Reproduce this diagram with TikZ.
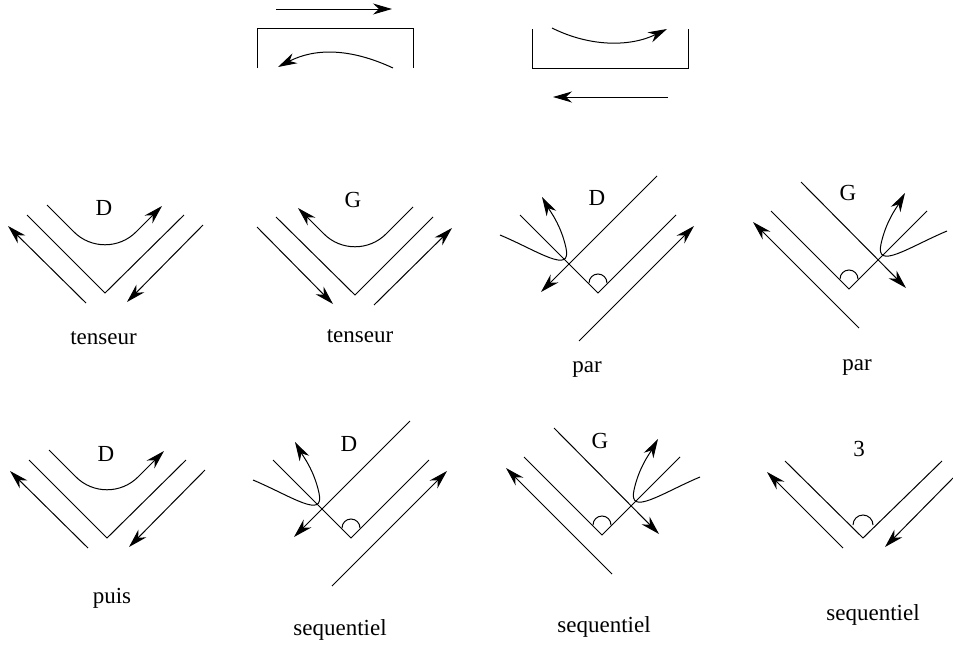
\documentclass[tikz,border=0pt]{standalone}
\usepackage{fontspec}
\setmainfont{Liberation Serif}
\usetikzlibrary{arrows.meta}
\tikzset{
  every picture/.style={line width=0.5pt},
  arr/.style={-{Stealth[length=9.5pt,width=5.5pt,inset=3pt]}},
  glabel/.style={font=\fontsize{11.5}{13}\selectfont, inner sep=0pt},
}
% small half circle just above the vertex
\newcommand{\angmark}{\draw (-9,10) arc[start angle=180,end angle=0,radius=9];}
% V with the two outer arrows and the rounded inner arrow
\newcommand{\tensglyph}{%
  \draw (-78,78) -- (0,0) -- (79,78);
  \draw[arr] (-19,-10) -- (-97,67);
  \draw[arr] (98,68) -- (22,-9);
  \draw[arr,rounded corners=22pt] (-58,88) -- (0,30) -- (57,87);}
% V with the long crossing line; #1 = far end of it, #2 = start of outer arrow
\newcommand{\parglyph}[2]{%
  \draw (-78,78) -- (0,0) -- (78,78);
  \draw[arr] (#1) -- (-57,1);
  \draw[arr] (#2) -- (96,67);
  \draw[arr] (-98,58) .. controls (-60,42) and (-26,18) .. (-32,45)
    .. controls (-37,68) and (-48,82) .. (-56,96);
  \angmark}

\begin{document}
\begin{tikzpicture}[x=0.5pt,y=0.5pt]
\useasboundingbox (0,0) rectangle (953,650);
% the two boxes on top
\draw[arr] (276,641) -- (392,641);
\draw (257,582) |- (413,622) -- (413,582);
\draw[arr] (393,582) .. controls (350,602) and (315,602) .. (278,583);
\draw (532,621) |- (688,582) -- (688,621);
\draw[arr] (552,622) .. controls (590,603) and (630,603) .. (667,621);
\draw[arr] (668,553) -- (553,553);

\coordinate (v1) at (105,357);
\coordinate (v2) at (355,355);
\coordinate (v3) at (598,357);
\coordinate (v4) at (849,361);
\coordinate (v5) at (107,112);
\coordinate (v6) at (351,112);
\coordinate (v7) at (602,115);
\coordinate (v8) at (863,112);

\begin{scope}[shift={(v1)}] \tensglyph \end{scope}
\begin{scope}[shift={(v2)},xscale=-1] \tensglyph \end{scope}
\begin{scope}[shift={(v3)}] \parglyph{59,117}{-19,-48} \end{scope}
\begin{scope}[shift={(v4)},xscale=-1] \parglyph{48,107}{-10,-39} \end{scope}
\begin{scope}[shift={(v5)}] \tensglyph \end{scope}
\begin{scope}[shift={(v6)}] \parglyph{59,117}{-19,-48} \end{scope}
\begin{scope}[shift={(v7)},xscale=-1] \parglyph{48,107}{-10,-39} \end{scope}
\begin{scope}[shift={(v8)}]
  \draw (-78,77) -- (0,0) -- (79,77);
  \draw[arr] (-20,-10) -- (-96,66);
  \draw[arr] (90,60) -- (22,-9);
  \draw (-10,13) arc[start angle=180,end angle=0,radius=10];
\end{scope}

\node[glabel] (l1) at (104,442) {D};
\node[glabel] (l2) at (353,450) {G};
\node[glabel] (l3) at (597,452) {D};
\node[glabel] (l4) at (848,457) {G};
\node[glabel] (l5) at (106,196) {D};
\node[glabel] (l6) at (349,206) {D};
\node[glabel] (l7) at (600,209) {G};
\node[glabel] (l8) at (859,201) {3};

\node[glabel] (c1) at (103.5,312) {tenseur};
\node[glabel] (c2) at (360,314) {tenseur};
\node[glabel] (c3) at (587,280) {par};
\node[glabel] (c4) at (857,282) {par};
\node[glabel] (c5) at (112,52) {puis};
\node[glabel] (c6) at (340,20) {sequentiel};
\node[glabel] (c7) at (604,23) {sequentiel};
\node[glabel] (c8) at (873,35) {sequentiel};
\end{tikzpicture}
\end{document}
